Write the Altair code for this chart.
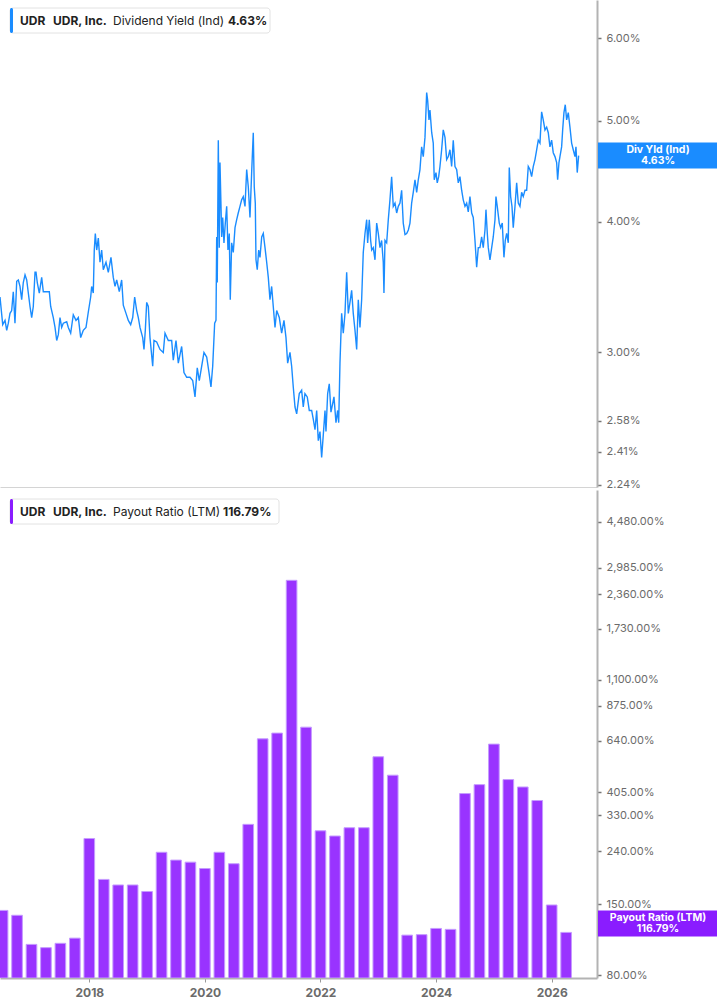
import altair as alt
import pandas as pd

# ---------------- data ----------------
yield_year = [
    2016.455, 2016.502, 2016.542, 2016.571, 2016.599, 2016.628, 2016.657, 2016.685, 2016.714, 2016.744,
    2016.772, 2016.801, 2016.830, 2016.858, 2016.888, 2016.917, 2016.945, 2016.974, 2017.003, 2017.031,
    2017.061, 2017.078, 2017.100, 2017.135, 2017.176, 2017.204, 2017.263, 2017.308, 2017.332, 2017.377,
    2017.407, 2017.436, 2017.464, 2017.493, 2017.522, 2017.550, 2017.609, 2017.637, 2017.678, 2017.723,
    2017.770, 2017.810, 2017.851, 2017.896, 2017.943, 2017.983, 2018.024, 2018.041, 2018.069, 2018.086,
    2018.104, 2018.128, 2018.156, 2018.185, 2018.214, 2018.242, 2018.289, 2018.329, 2018.375, 2018.415,
    2018.445, 2018.474, 2018.519, 2018.560, 2018.588, 2018.635, 2018.675, 2018.716, 2018.751, 2018.785,
    2018.820, 2018.848, 2018.877, 2018.924, 2018.946, 2018.969, 2018.993, 2019.021, 2019.050,
    2019.097, 2019.119, 2019.166, 2019.223, 2019.280, 2019.310, 2019.367, 2019.425, 2019.453, 2019.500,
    2019.540, 2019.598, 2019.638, 2019.685, 2019.742, 2019.789, 2019.829, 2019.868, 2019.903, 2019.944,
    2019.984, 2020.031, 2020.071, 2020.105, 2020.135, 2020.169, 2020.192, 2020.204, 2020.214, 2020.232,
    2020.249, 2020.261, 2020.291, 2020.308, 2020.330, 2020.353, 2020.377, 2020.399, 2020.422, 2020.439,
    2020.463, 2020.491, 2020.521, 2020.550, 2020.577, 2020.607, 2020.636, 2020.664, 2020.694, 2020.723,
    2020.751, 2020.780, 2020.809, 2020.837, 2020.854, 2020.872, 2020.884, 2020.906, 2020.931, 2020.953,
    2020.983, 2021.010, 2021.040, 2021.069, 2021.097, 2021.126, 2021.155, 2021.183, 2021.213, 2021.242,
    2021.287, 2021.328, 2021.368, 2021.403, 2021.432, 2021.472, 2021.501, 2021.529, 2021.559, 2021.588,
    2021.633,
    2021.674, 2021.702, 2021.731, 2021.771, 2021.806, 2021.847, 2021.875, 2021.905, 2021.934, 2021.962,
    2021.991, 2022.020, 2022.048, 2022.078, 2022.095, 2022.124, 2022.152, 2022.181, 2022.211, 2022.233,
    2022.268, 2022.297, 2022.315, 2022.337, 2022.366, 2022.394, 2022.424, 2022.453, 2022.481, 2022.510,
    2022.539, 2022.567, 2022.597, 2022.626, 2022.654, 2022.683, 2022.712, 2022.740, 2022.770, 2022.799,
    2022.816, 2022.844, 2022.868, 2022.886, 2022.913, 2022.943, 2022.972, 2023.000, 2023.029, 2023.058,
    2023.086, 2023.098, 2023.116, 2023.145, 2023.173, 2023.202, 2023.231, 2023.259, 2023.289, 2023.318,
    2023.346, 2023.375, 2023.404, 2023.432, 2023.462, 2023.491, 2023.520, 2023.548, 2023.577, 2023.605,
    2023.635, 2023.664, 2023.692, 2023.721, 2023.750, 2023.778, 2023.808, 2023.837, 2023.854, 2023.877,
    2023.894, 2023.924, 2023.951, 2023.968, 2023.998,
    2024.020, 2024.045, 2024.067, 2024.096, 2024.124, 2024.154, 2024.183, 2024.211, 2024.240, 2024.269,
    2024.297, 2024.327, 2024.356, 2024.384, 2024.413, 2024.442, 2024.470, 2024.500, 2024.529, 2024.557,
    2024.586, 2024.616, 2024.643, 2024.673, 2024.702, 2024.730, 2024.759, 2024.788, 2024.816, 2024.846,
    2024.863, 2024.886, 2024.903, 2024.932, 2024.962, 2024.989, 2025.019, 2025.036, 2025.058, 2025.093,
    2025.117, 2025.145, 2025.174, 2025.197, 2025.221, 2025.249, 2025.266, 2025.290, 2025.313, 2025.335,
    2025.365, 2025.394, 2025.422, 2025.451, 2025.480, 2025.508, 2025.538, 2025.567, 2025.595, 2025.624,
    2025.653, 2025.681, 2025.711, 2025.740, 2025.768, 2025.797, 2025.826, 2025.854, 2025.884, 2025.913,
    2025.941, 2025.970, 2025.999, 2026.027, 2026.057, 2026.086, 2026.103, 2026.126, 2026.143, 2026.172,
    2026.190, 2026.212, 2026.235, 2026.259, 2026.287, 2026.316, 2026.345, 2026.373, 2026.403, 2026.420,
    2026.442, 2026.466,
]
yield_pct = [
    3.39, 3.19, 3.22, 3.15, 3.20, 3.27, 3.29, 3.43, 3.20, 3.51,
    3.52, 3.47, 3.37, 3.50, 3.56, 3.52, 3.42, 3.32, 3.24, 3.32,
    3.58, 3.58, 3.50, 3.42, 3.54, 3.43, 3.43, 3.43, 3.32, 3.24,
    3.17, 3.08, 3.12, 3.24, 3.17, 3.20, 3.21, 3.17, 3.13, 3.26,
    3.22, 3.24, 3.10, 3.15, 3.17, 3.28, 3.39, 3.47, 3.42, 3.76,
    3.90, 3.76, 3.86, 3.66, 3.76, 3.60, 3.66, 3.58, 3.70, 3.54,
    3.47, 3.52, 3.43, 3.52, 3.33, 3.27, 3.22, 3.19, 3.24, 3.39,
    3.29, 3.24, 3.17, 3.10, 3.02, 3.15, 3.35, 3.32, 3.10,
    2.91, 3.08, 3.07, 3.02, 3.00, 3.13, 3.08, 3.08, 2.95, 3.08,
    2.93, 3.04, 2.87, 2.84, 2.84, 2.82, 2.72, 2.90, 2.82, 2.91,
    3.00, 2.97, 2.87, 2.78, 2.91, 3.20, 3.22, 3.87, 3.50, 4.79,
    3.78, 4.56, 3.87, 4.04, 3.82, 3.99, 4.14, 3.76, 3.90, 3.37,
    3.82, 3.74, 3.95, 4.02, 4.08, 4.14, 4.20, 4.23, 4.14, 4.49,
    4.32, 4.04, 4.46, 4.87, 4.32, 4.17, 3.68, 3.60, 3.76, 3.70,
    3.87, 3.90, 3.78, 3.66, 3.54, 3.37, 3.47, 3.32, 3.17, 3.29,
    3.24, 3.13, 3.22, 3.10, 2.93, 3.00, 2.91, 2.78, 2.66, 2.62,
    2.74,
    2.76, 2.66, 2.74, 2.72, 2.64, 2.64, 2.59, 2.53, 2.64, 2.47,
    2.52, 2.38, 2.50, 2.64, 2.52, 2.74, 2.80, 2.63, 2.68, 2.72,
    2.57, 2.64, 2.57, 2.93, 3.27, 3.13, 3.27, 3.58, 3.27, 3.35,
    3.44, 3.27, 3.15, 3.02, 3.37, 3.17, 3.37, 3.74, 3.90, 4.02,
    3.82, 4.02, 3.84, 3.76, 3.78, 3.68, 3.99, 3.90, 3.78, 3.84,
    3.66, 3.42, 3.84, 3.82, 4.02, 4.20, 4.42, 4.14, 4.17, 4.08,
    4.14, 4.17, 4.29, 3.99, 3.89, 3.90, 3.93, 3.99, 4.17, 4.27,
    4.39, 4.27, 4.39, 4.49, 4.72, 4.62, 4.82, 5.32, 5.23, 5.01,
    5.12, 4.87, 4.76, 4.39, 4.46,
    4.36, 4.42, 4.52, 4.69, 4.90, 4.82, 4.59, 4.62, 4.69, 4.52,
    4.79, 4.52, 4.49, 4.36, 4.42, 4.29, 4.20, 4.14, 4.17, 4.09,
    4.23, 4.08, 4.04, 3.84, 3.62, 3.78, 3.78, 3.87, 3.78, 3.93,
    4.11, 3.90, 3.78, 3.68, 3.78, 3.87, 4.02, 4.23, 4.14, 3.99,
    3.95, 3.99, 3.70, 3.84, 3.90, 3.82, 4.51, 4.23, 4.14, 3.95,
    4.14, 4.36, 4.17, 4.14, 4.27, 4.23, 4.29, 4.29, 4.52, 4.49,
    4.42, 4.52, 4.59, 4.69, 4.79, 4.76, 5.10, 5.01, 4.90, 4.93,
    4.87, 4.72, 4.79, 4.66, 4.62, 4.56, 4.39, 4.56, 4.62, 4.72,
    4.90, 5.09, 5.18, 5.01, 5.09, 4.93, 4.76, 4.69, 4.62, 4.72,
    4.46, 4.63,
]

# quarter-end positions (decimal years) and payout ratio (LTM, %)
payout_quarter = [
    2016.50, 2016.75, 2017.00, 2017.25, 2017.50, 2017.75, 2018.00, 2018.25, 2018.50, 2018.75,
    2019.00, 2019.25, 2019.50, 2019.75, 2020.00, 2020.25, 2020.50, 2020.75, 2021.00, 2021.25,
    2021.50, 2021.75, 2022.00, 2022.25, 2022.50, 2022.75, 2023.00, 2023.25, 2023.50, 2023.75,
    2024.00, 2024.25, 2024.50, 2024.75, 2025.00, 2025.25, 2025.50, 2025.75, 2026.00, 2026.25,
]
payout_pct = [
    142, 136, 105, 102, 106, 111, 269, 187, 178, 178,
    168, 238, 222, 218, 206, 238, 215, 305, 652, 686,
    2665, 723, 288, 275, 296, 296, 556, 472, 114, 114.5,
    121, 120, 401, 434, 622, 454, 425, 377, 149, 116.79,
]

yield_ticks = [2.24, 2.41, 2.58, 3.00, 4.00, 5.00, 6.00]
payout_ticks = [80, 150, 240, 330, 405, 640, 875, 1100, 1730, 2360, 2985, 4480]
year_ticks = [2018, 2020, 2022, 2024, 2026]

last_yield = 4.63
last_payout = 116.79

x_domain = [2016.455, 2026.784]
yield_domain = [2.23, 6.525]
payout_domain = [77.9, 5945]

# ---------------- styling ----------------
FONT = "Inter"
BLUE = "#1a8cff"
PURPLE = "#9933ff"
BADGE_PURPLE = "#8a1cff"
W = 597
H_TOP = 487
H_BOT = 488

line_df = pd.DataFrame({"year": yield_year, "yld": yield_pct})
bar_df = pd.DataFrame({"q": payout_quarter, "pr": payout_pct})
one = pd.DataFrame({"k": [0]})

x_scale = alt.Scale(domain=x_domain, nice=False, zero=False)

y_axis_common = dict(
    orient="right", grid=False, title=None, domainColor="#b3b3b3", domainWidth=2,
    tickColor="#777777", tickSize=4, tickWidth=1.5, labelColor="#6b6b6b", labelFontSize=11,
    labelFont=FONT, labelPadding=5, labelOverlap=False, labelBound=False, labelFlush=False,
)

# ---------------- top panel: dividend yield ----------------
top_y = alt.Y(
    "yld:Q",
    scale=alt.Scale(type="log", domain=yield_domain, nice=False),
    axis=alt.Axis(values=yield_ticks, labelExpr="format(datum.value, '.2f') + '%'", **y_axis_common),
)
top_x = alt.X(
    "year:Q", scale=x_scale,
    axis=alt.Axis(labels=False, ticks=False, grid=False, title=None, domainColor="#d4d4d4", domainWidth=1),
)

line = alt.Chart(line_df).mark_line(color=BLUE, strokeWidth=1.4, clip=True).encode(x=top_x, y=top_y)


def legend_layers(label_sym, label_name, label_metric, label_val, accent, y0, metric_x, val_x, box_x2):
    box = alt.Chart(one).mark_rect(fill="white", stroke="#e2e2e2", strokeWidth=1, cornerRadius=3).encode(
        x=alt.value(10), x2=alt.value(box_x2), y=alt.value(y0), y2=alt.value(y0 + 25))
    acc = alt.Chart(one).mark_rect(fill=accent, cornerRadius=1.5).encode(
        x=alt.value(10), x2=alt.value(13), y=alt.value(y0), y2=alt.value(y0 + 25))
    ty = y0 + 13
    t1 = alt.Chart(one).mark_text(text=label_sym, align="left", baseline="middle", font=FONT,
                                  fontSize=12, fontWeight="bold", color="#222222").encode(
        x=alt.value(20), y=alt.value(ty))
    t2 = alt.Chart(one).mark_text(text=label_name, align="left", baseline="middle", font=FONT,
                                  fontSize=12, fontWeight="bold", color="#222222").encode(
        x=alt.value(53), y=alt.value(ty))
    t3 = alt.Chart(one).mark_text(text=label_metric, align="left", baseline="middle", font=FONT,
                                  fontSize=12, color="#222222").encode(
        x=alt.value(metric_x), y=alt.value(ty))
    t4 = alt.Chart(one).mark_text(text=label_val, align="left", baseline="middle", font=FONT,
                                  fontSize=12, fontWeight="bold", color="#222222").encode(
        x=alt.value(val_x), y=alt.value(ty))
    return [box, acc, t1, t2, t3, t4]


def badge(value, color, line1, line2, shift):
    rect = alt.Chart(one).mark_rect(color=color, yOffset=shift - 13, y2Offset=shift + 13).encode(
        x=alt.value(W + 1), x2=alt.value(717), y=alt.datum(value), y2=alt.datum(value))
    t1 = alt.Chart(one).mark_text(text=line1, font=FONT, fontSize=10.5, fontWeight="bold",
                                  color="white", dy=shift - 5.5).encode(x=alt.value(658), y=alt.datum(value))
    t2 = alt.Chart(one).mark_text(text=line2, font=FONT, fontSize=10.5, fontWeight="bold",
                                  color="white", dy=shift + 5.5).encode(x=alt.value(658), y=alt.datum(value))
    return [rect, t1, t2]


top = alt.layer(
    line,
    *legend_layers("UDR", "UDR, Inc.", "Dividend Yield (Ind)", "4.63%", BLUE, 8, 113, 228, 270),
    *badge(last_yield, BLUE, "Div Yld (Ind)", "4.63%", 0),
).properties(width=W, height=H_TOP)

# ---------------- bottom panel: payout ratio ----------------
bot_x = alt.X(
    "x0:Q", scale=x_scale,
    axis=alt.Axis(values=year_ticks, format="d", grid=False, title=None, domainColor="#b3b3b3",
                  domainWidth=2, tickColor="#999999", tickSize=4, labelColor="#6b6b6b", labelFontSize=12,
                  labelFontWeight="bold", labelFont=FONT, labelPadding=5, labelFlush=False),
)
bot_y = alt.Y(
    "pr:Q",
    scale=alt.Scale(type="log", domain=payout_domain, nice=False),
    axis=alt.Axis(values=payout_ticks, labelExpr="format(datum.value, ',.2f') + '%'", **y_axis_common),
)

bars = alt.Chart(bar_df).transform_calculate(
    x0="datum.q - 0.092", x1="datum.q + 0.092"
).mark_bar(color=PURPLE, stroke="#c59bff", strokeWidth=1, clip=True).encode(
    x=bot_x, x2="x1:Q", y=bot_y, y2=alt.datum(payout_domain[0]))

bottom = alt.layer(
    bars,
    *legend_layers("UDR", "UDR, Inc.", "Payout Ratio (LTM)", "116.79%", BADGE_PURPLE, 9, 113, 223, 279),
    *badge(last_payout, BADGE_PURPLE, "Payout Ratio (LTM)", "116.79%", -9),
).properties(width=W, height=H_BOT)

chart = alt.vconcat(top, bottom, spacing=0).properties(
    padding={"left": 0, "top": 0, "right": 0, "bottom": 0},
    background="white",
).configure_view(stroke=None).configure_concat(spacing=0)

chart.save("out.html", embed_options={"renderer": "svg", "actions": False})
